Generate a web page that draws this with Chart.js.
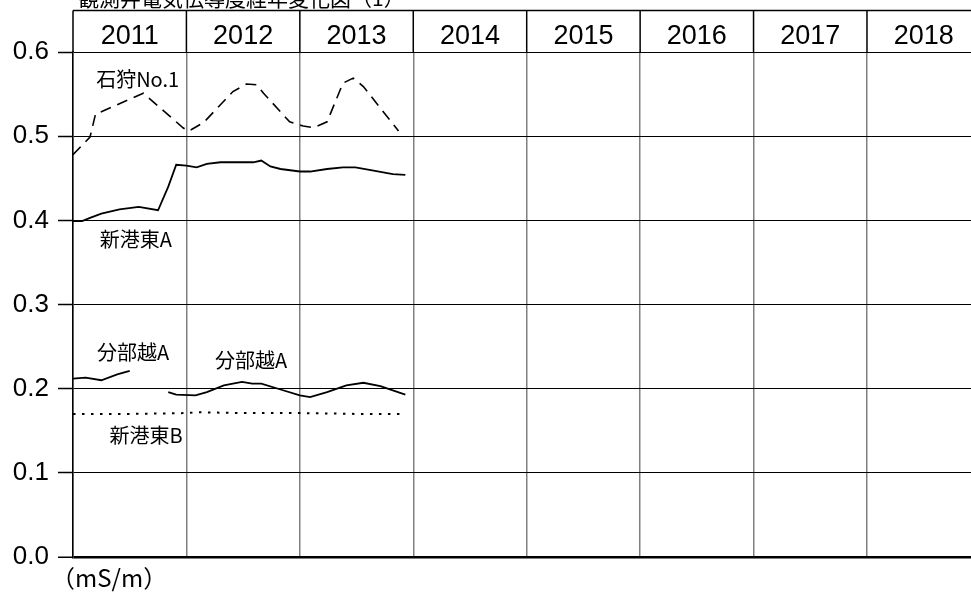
<!DOCTYPE html>
<html>
<head>
<meta charset="utf-8">
<script src="https://cdn.jsdelivr.net/npm/chart.js@4/dist/chart.umd.min.js"></script>
<style>
  html, body { margin: 0; padding: 0; overflow: hidden; background: #fff; }
  #wrap { width: 982px; height: 597px; position: relative; }
</style>
</head>
<body>
<div id="wrap"><canvas id="c"></canvas></div>
<script>
// ---- data (decimal year, electrical conductivity mS/m) ----
const yearLabels = ['2011', '2012', '2013', '2014', '2015', '2016', '2017', '2018'];
const yTicks = [0.0, 0.1, 0.2, 0.3, 0.4, 0.5, 0.6];

const ishikariYears  = [2011.00, 2011.15, 2011.20, 2011.25, 2011.62, 2011.97, 2012.02, 2012.15, 2012.41, 2012.53, 2012.62, 2012.68, 2012.91, 2013.03, 2013.12, 2013.24, 2013.38, 2013.47, 2013.56, 2013.87];
const ishikariValues = [0.478, 0.499, 0.527, 0.529, 0.551, 0.510, 0.506, 0.516, 0.553, 0.562, 0.561, 0.551, 0.517, 0.512, 0.510, 0.517, 0.563, 0.569, 0.559, 0.506];

const shinkoAYears  = [2011.00, 2011.08, 2011.15, 2011.25, 2011.41, 2011.58, 2011.75, 2011.84, 2011.91, 2012.00, 2012.09, 2012.18, 2012.30, 2012.50, 2012.59, 2012.66, 2012.74, 2012.83, 2013.00, 2013.09, 2013.24, 2013.38, 2013.49, 2013.65, 2013.82, 2013.93];
const shinkoAValues = [0.399, 0.399, 0.403, 0.408, 0.413, 0.416, 0.412, 0.440, 0.466, 0.465, 0.463, 0.467, 0.469, 0.469, 0.469, 0.471, 0.464, 0.461, 0.458, 0.458, 0.461, 0.463, 0.463, 0.459, 0.455, 0.454];

const wakkaoiYears  = [2011.00, 2011.11, 2011.25, 2011.39, 2011.50, 2011.67, 2011.84, 2011.91, 2012.08, 2012.18, 2012.33, 2012.49, 2012.58, 2012.66, 2012.83, 2013.00, 2013.09, 2013.24, 2013.41, 2013.56, 2013.71, 2013.93];
const wakkaoiValues = [0.212, 0.213, 0.210, 0.217, 0.221, null, 0.196, 0.193, 0.192, 0.196, 0.204, 0.208, 0.206, 0.206, 0.199, 0.192, 0.190, 0.196, 0.204, 0.207, 0.203, 0.193];

const shinkoBYears  = [2011.00, 2011.50, 2012.00, 2012.10, 2012.50, 2013.00, 2013.50, 2013.93];
const shinkoBValues = [0.170, 0.170, 0.171, 0.172, 0.171, 0.171, 0.170, 0.170];

const seriesNames = ['石狩No.1', '新港東A', '分部越A', '新港東B'];

// on-chart labels (text, year, value)
const noteTexts  = ['石狩No.1', '新港東A', '分部越A', '分部越A', '新港東B'];
const noteYears  = [2011.57, 2011.555, 2011.53, 2012.57, 2011.645];
const noteValues = [0.567, 0.377, 0.243, 0.233, 0.145];

const titleText = '観測井電気伝導度経年変化図（1）';
const unitText = '（mS/m）';

const toPts = (xs, ys) => xs.map((x, i) => ({ x: x, y: ys[i] }));

const headerPlugin = {
  id: 'header',
  afterDraw(chart) {
    const ctx = chart.ctx;
    const ca = chart.chartArea;
    const xs = chart.scales.x;
    const top = 10.5;
    ctx.save();
    ctx.strokeStyle = '#000';
    ctx.lineWidth = 1.5;
    ctx.beginPath();
    ctx.moveTo(ca.left, top);
    ctx.lineTo(ca.right + 5, top);
    for (let i = 0; i <= yearLabels.length; i++) {
      const px = xs.getPixelForValue(2011 + i);
      ctx.moveTo(px, top);
      ctx.lineTo(px, ca.top);
    }
    ctx.stroke();
    ctx.fillStyle = '#000';
    ctx.font = '27px "Liberation Sans", Arial, sans-serif';
    ctx.textAlign = 'center';
    ctx.textBaseline = 'alphabetic';
    yearLabels.forEach((lab, i) => {
      ctx.fillText(lab, xs.getPixelForValue(2011 + i + 0.5), 44);
    });
    // title (clipped at top of the page)
    ctx.font = '21px "Noto Sans CJK JP", sans-serif';
    ctx.textAlign = 'left';
    ctx.fillText(titleText, ca.left + 5, 6);
    // unit
    ctx.font = '24px "Noto Sans CJK JP", sans-serif';
    ctx.textBaseline = 'middle';
    ctx.fillText(unitText, ca.left - 22, ca.bottom + 21);
    // series notes
    ctx.font = '20px "Noto Sans CJK JP", sans-serif';
    ctx.textAlign = 'center';
    const ys = chart.scales.y;
    noteTexts.forEach((t, i) => {
      ctx.fillText(t, xs.getPixelForValue(noteYears[i]), ys.getPixelForValue(noteValues[i]));
    });
    ctx.restore();
  }
};

new Chart(document.getElementById('c'), {
  type: 'line',
  data: {
    datasets: [
      { label: seriesNames[0], data: toPts(ishikariYears, ishikariValues), borderColor: '#000', borderWidth: 1.6, borderDash: [11, 7], pointRadius: 0, tension: 0, fill: false },
      { label: seriesNames[1], data: toPts(shinkoAYears, shinkoAValues), borderColor: '#000', borderWidth: 1.8, pointRadius: 0, tension: 0, fill: false },
      { label: seriesNames[2], data: toPts(wakkaoiYears, wakkaoiValues), borderColor: '#000', borderWidth: 1.8, pointRadius: 0, tension: 0, fill: false, spanGaps: false },
      { label: seriesNames[3], data: toPts(shinkoBYears, shinkoBValues), borderColor: '#000', borderWidth: 2, borderDash: [2.5, 6.5], pointRadius: 0, tension: 0, fill: false }
    ]
  },
  options: {
    responsive: true,
    maintainAspectRatio: false,
    animation: false,
    events: [],
    layout: { padding: { top: 52, bottom: 40, left: 0, right: 1.6 } },
    plugins: { legend: { display: false }, tooltip: { enabled: false } },
    scales: {
      x: {
        type: 'linear',
        min: 2011,
        max: 2019,
        afterBuildTicks(s) { s.ticks = yearLabels.map((l, i) => ({ value: 2011 + i })); },
        ticks: { display: false },
        grid: { color: '#808080', lineWidth: 1.5, drawTicks: false },
        border: { display: false },
        afterFit(s) { s.height = 0; }
      },
      y: {
        min: 0,
        max: 0.6,
        afterBuildTicks(s) { s.ticks = yTicks.map(v => ({ value: v })); },
        ticks: {
          callback: v => Number(v).toFixed(1),
          font: { family: '"Liberation Sans", Arial, sans-serif', size: 26 },
          color: '#000',
          padding: 9
        },
        grid: {
          color: '#000',
          lineWidth: ctx => (ctx.tick && ctx.tick.value === 0 ? 2.5 : 1),
          tickLength: 15,
          tickColor: '#000',
          tickWidth: 1.5
        },
        border: { color: '#000', width: 1.5 },
        afterFit(s) { s.width = 73; }
      }
    }
  },
  plugins: [headerPlugin]
});
</script>
</body>
</html>
